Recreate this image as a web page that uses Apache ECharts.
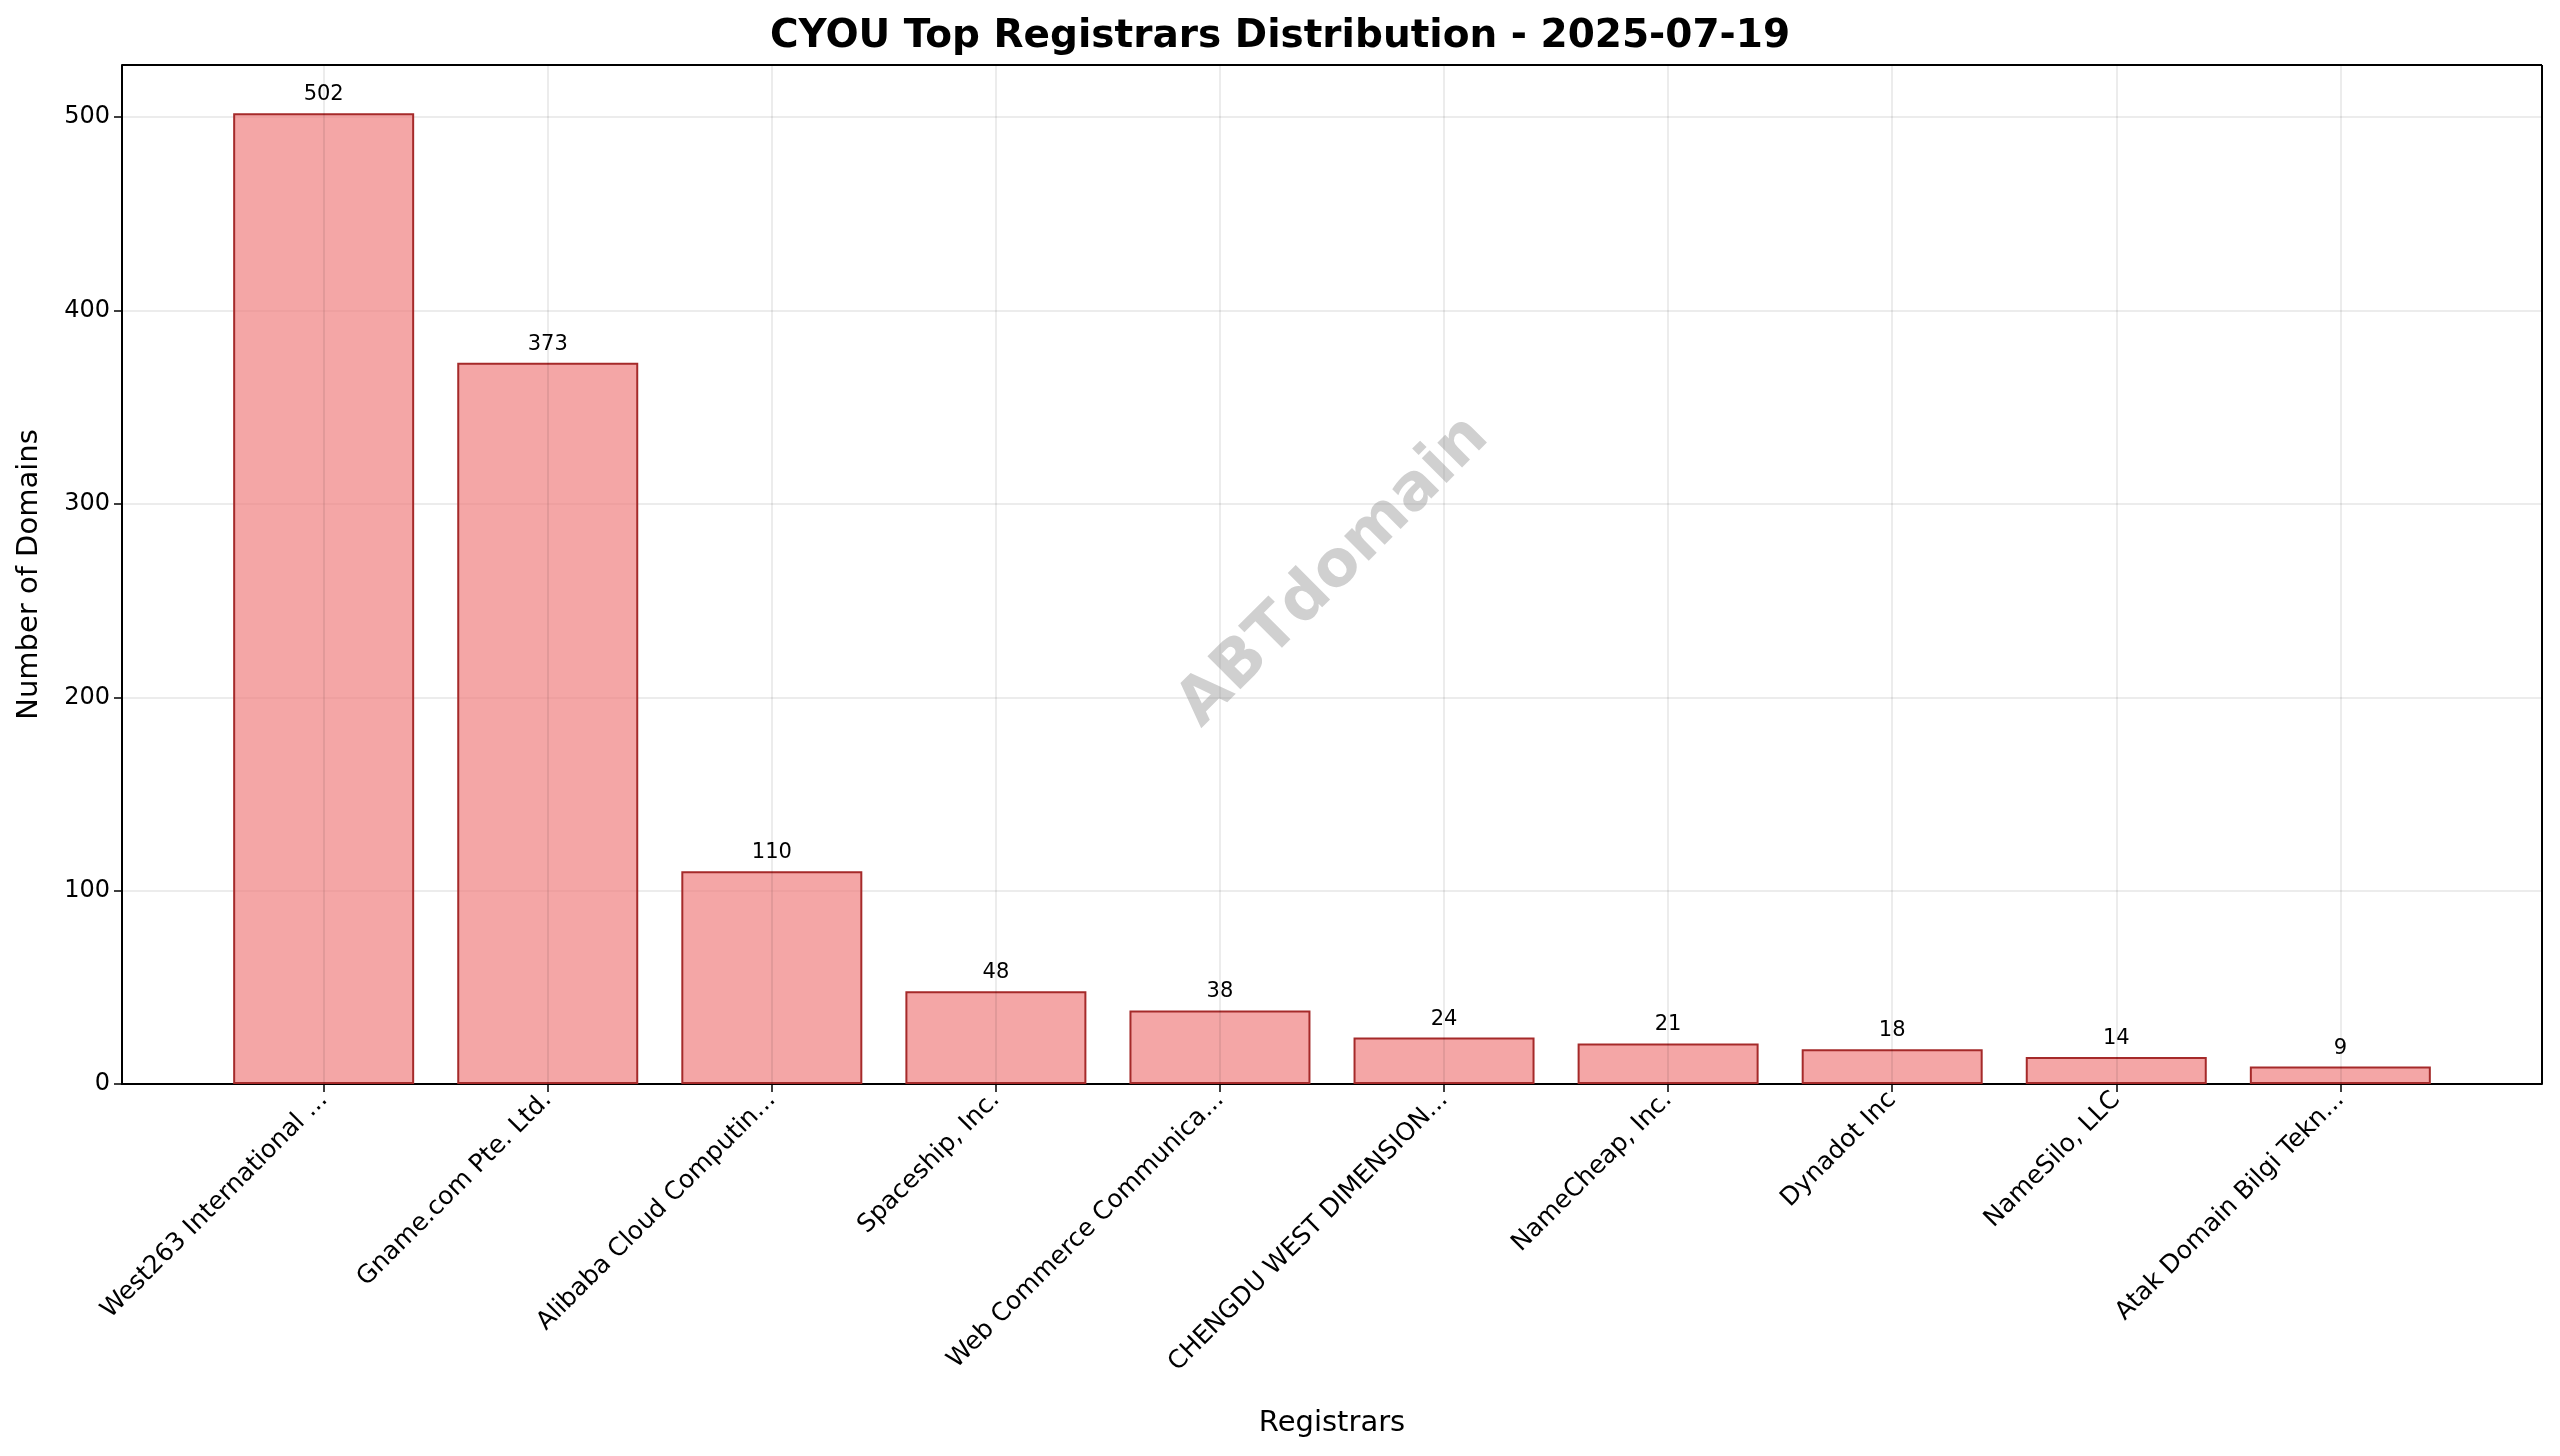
<!DOCTYPE html>
<html><head><meta charset="utf-8">
<script src="https://cdn.jsdelivr.net/npm/echarts@6/dist/echarts.min.js"></script>
<style>html,body{margin:0;padding:0;background:#fff}#c{width:2560px;height:1456px}</style>
</head><body><div id="c"></div>
<script>
const categories = ["West263 International ...","Gname.com Pte. Ltd.","Alibaba Cloud Computin...","Spaceship, Inc.","Web Commerce Communica...","CHENGDU WEST DIMENSION...","NameCheap, Inc.","Dynadot Inc","NameSilo, LLC","Atak Domain Bilgi Tekn..."];
const values = [502,373,110,48,38,24,21,18,14,9];
const yTicks = [0,100,200,300,400,500];
const idx = categories.map((_, i) => i);
const font = 'DejaVu Sans';
const chart = echarts.init(document.getElementById('c'));
chart.setOption({
  animation:false,
  backgroundColor:'#fff',
  title:{text:'CYOU Top Registrars Distribution - 2025-07-19',left:'center',top:12,
    textStyle:{fontFamily:font,fontWeight:'bold',fontSize:39,color:'#000'}},
  grid:{left:122,right:18,top:65,bottom:372},
  graphic:[{type:'text',x:1334,y:572,rotation:Math.PI/4,z:10,
    style:{text:'ABTdomain',fontFamily:font,fontWeight:'bold',fontSize:64,fill:'rgba(150,150,150,0.45)',
    align:'center',verticalAlign:'middle'}}],
  xAxis:{type:'value',min:-0.9,max:9.9,
    name:'Registrars',nameLocation:'middle',nameGap:325,
    nameTextStyle:{fontFamily:font,fontSize:29,color:'#000'},
    axisLine:{show:true,onZero:false,lineStyle:{color:'#000',width:2}},
    axisTick:{show:true,customValues:idx,length:8,lineStyle:{color:'#000',width:1.5}},
    axisLabel:{customValues:idx,rotate:45,fontFamily:font,fontSize:25,color:'#000',margin:12,
      formatter:v=>categories[Math.round(v)]},
    splitLine:{show:false}},
  yAxis:{type:'value',min:0,max:527,interval:100,
    name:'Number of Domains',nameLocation:'middle',nameGap:78,
    nameTextStyle:{fontFamily:font,fontSize:29,color:'#000'},
    axisLine:{show:true,onZero:false,lineStyle:{color:'#000',width:2}},
    axisTick:{show:true,length:8,lineStyle:{color:'#000',width:1.5}},
    axisLabel:{fontFamily:font,fontSize:24,color:'#000',margin:12,showMaxLabel:false,
      formatter:v=>yTicks.includes(v)?String(v):''},
    splitLine:{show:true,showMaxLine:false,lineStyle:{color:'rgba(0,0,0,0.1)',width:1.5}}},
  series:[
    {type:'bar',data:values.map((v,i)=>[i,v]),barWidth:181,
      itemStyle:{color:'rgba(240,128,128,0.7)',borderColor:'#a52a2a',borderWidth:2},
      label:{show:true,position:'top',distance:8,fontFamily:font,fontSize:21,color:'#000',formatter:p=>p.value[1]},
      markLine:{silent:true,symbol:'none',label:{show:false},
        lineStyle:{color:'rgba(0,0,0,0.1)',width:1.5,type:'solid'},
        data:idx.map(i=>({xAxis:i}))},
      z:2},
    {type:'line',data:[[-0.9,527],[9.9,527]],symbol:'none',lineStyle:{color:'#000',width:2},silent:true},
    {type:'line',data:[[9.9,0],[9.9,527]],symbol:'none',lineStyle:{color:'#000',width:2},silent:true}
  ]
});
</script></body></html>
